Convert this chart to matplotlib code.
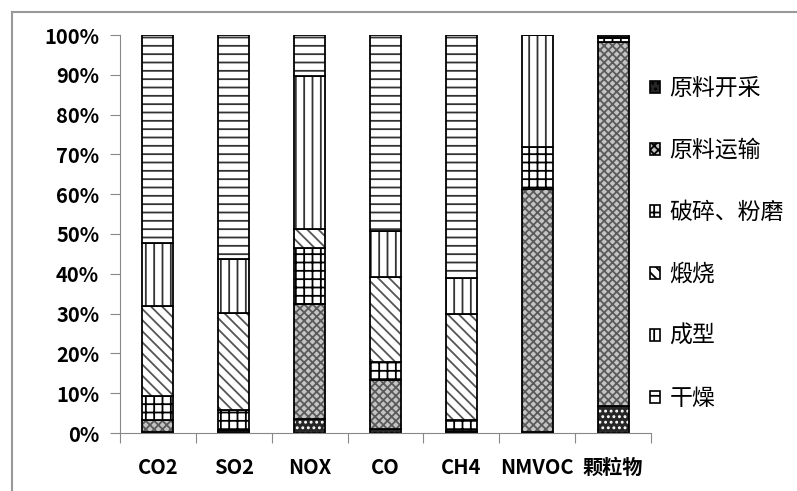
import numpy as np
import matplotlib
matplotlib.use('Agg')
import matplotlib.pyplot as plt
from matplotlib.lines import Line2D

plt.rcParams['font.family'] = ['Noto Sans CJK SC', 'DejaVu Sans']
plt.rcParams['hatch.linewidth'] = 1.3

categories = ['CO2', 'SO2', 'NOX', 'CO', 'CH4', 'NMVOC', '颗粒物']
stages = ['原料开采', '原料运输', '破碎、粉磨', '煅烧', '成型', '干燥']

# 各排放物在各工序中的占比 (%)
mining    = [0.3, 0.3, 3.6, 1.0, 0.2, 0.3, 6.9]
transport = [3.0, 0.5, 28.9, 12.4, 0.3, 61.0, 91.4]
crushing  = [6.0, 4.9, 14.1, 4.4, 2.8, 10.5, 1.0]
calcining = [22.7, 24.4, 4.6, 21.5, 26.7, 0.0, 0.0]
forming   = [15.7, 13.6, 38.5, 11.5, 8.9, 28.2, 0.3]
drying    = [52.3, 56.3, 10.3, 49.2, 61.1, 0.0, 0.4]

series = [mining, transport, crushing, calcining, forming, drying]
styles = [
    dict(facecolor='#262626', hatch_color='white', hatch='...'),
    dict(facecolor='#c4c4c4', hatch_color='#5a5a5a', hatch='xxxx'),
    dict(facecolor='white', hatch_color='black', hatch='++'),
    dict(facecolor='white', hatch_color='#555555', hatch='\\\\\\'),
    dict(facecolor='white', hatch_color='#333333', hatch='||'),
    dict(facecolor='white', hatch_color='#333333', hatch='--'),
]

fig = plt.figure(figsize=(7.97, 4.91), dpi=100)
ax = fig.add_axes([120 / 797, 1 - 433 / 491, 531 / 797, 398 / 491])

x = np.arange(len(categories))
width = 0.41
bottom = np.zeros(len(categories))
handles = []
for vals, st, name in zip(series, styles, stages):
    vals = np.array(vals)
    h = ax.bar(x, vals, width, bottom=bottom, color=st['facecolor'],
               edgecolor=st['hatch_color'], hatch=st['hatch'], linewidth=0,
               label=name)
    ax.bar(x, vals, width, bottom=bottom, fill=False, edgecolor='black',
           linewidth=1.3)
    handles.append(h)
    bottom += vals

ax.set_xlim(-0.5, len(categories) - 0.5)
ax.set_ylim(0, 100)
ax.set_yticks(np.arange(0, 101, 10))
ax.set_yticklabels([f'{v}%' for v in range(0, 101, 10)],
                   fontsize=14.5, fontweight='bold')
ax.set_xticks(np.arange(-0.5, len(categories)), labels=[])
ax.set_xticks(x, labels=categories, minor=True)
ax.tick_params(axis='x', which='minor', length=0, pad=17,
               labelsize=14.5)
for t in ax.get_xticklabels(minor=True):
    t.set_fontweight('bold')
ax.tick_params(axis='both', which='major', length=7, color='#888888',
               direction='out')
ax.tick_params(axis='y', pad=8)
for s in ['top', 'right']:
    ax.spines[s].set_visible(False)
for s in ['left', 'bottom']:
    ax.spines[s].set_color('#888888')

leg = fig.legend(handles=handles, labels=stages, loc='center left',
                 bbox_to_anchor=(650 / 797, 1 - 243.5 / 491),
                 frameon=False, fontsize=16.5, handlelength=0.45,
                 handleheight=0.45, handletextpad=0.4, labelspacing=1.7,
                 borderpad=0, borderaxespad=0)
for p in leg.get_patches():
    p.set_edgecolor('black')
    p.set_linewidth(1.2)

# frame lines along the top and left of the figure
fig.add_artist(Line2D([12 / 797, 1], [1 - 12 / 491, 1 - 12 / 491],
                      color='#999999', linewidth=1.5))
fig.add_artist(Line2D([12 / 797, 12 / 797], [0, 1 - 12 / 491],
                      color='#999999', linewidth=1.5))

fig.savefig('out.png', dpi=100)
